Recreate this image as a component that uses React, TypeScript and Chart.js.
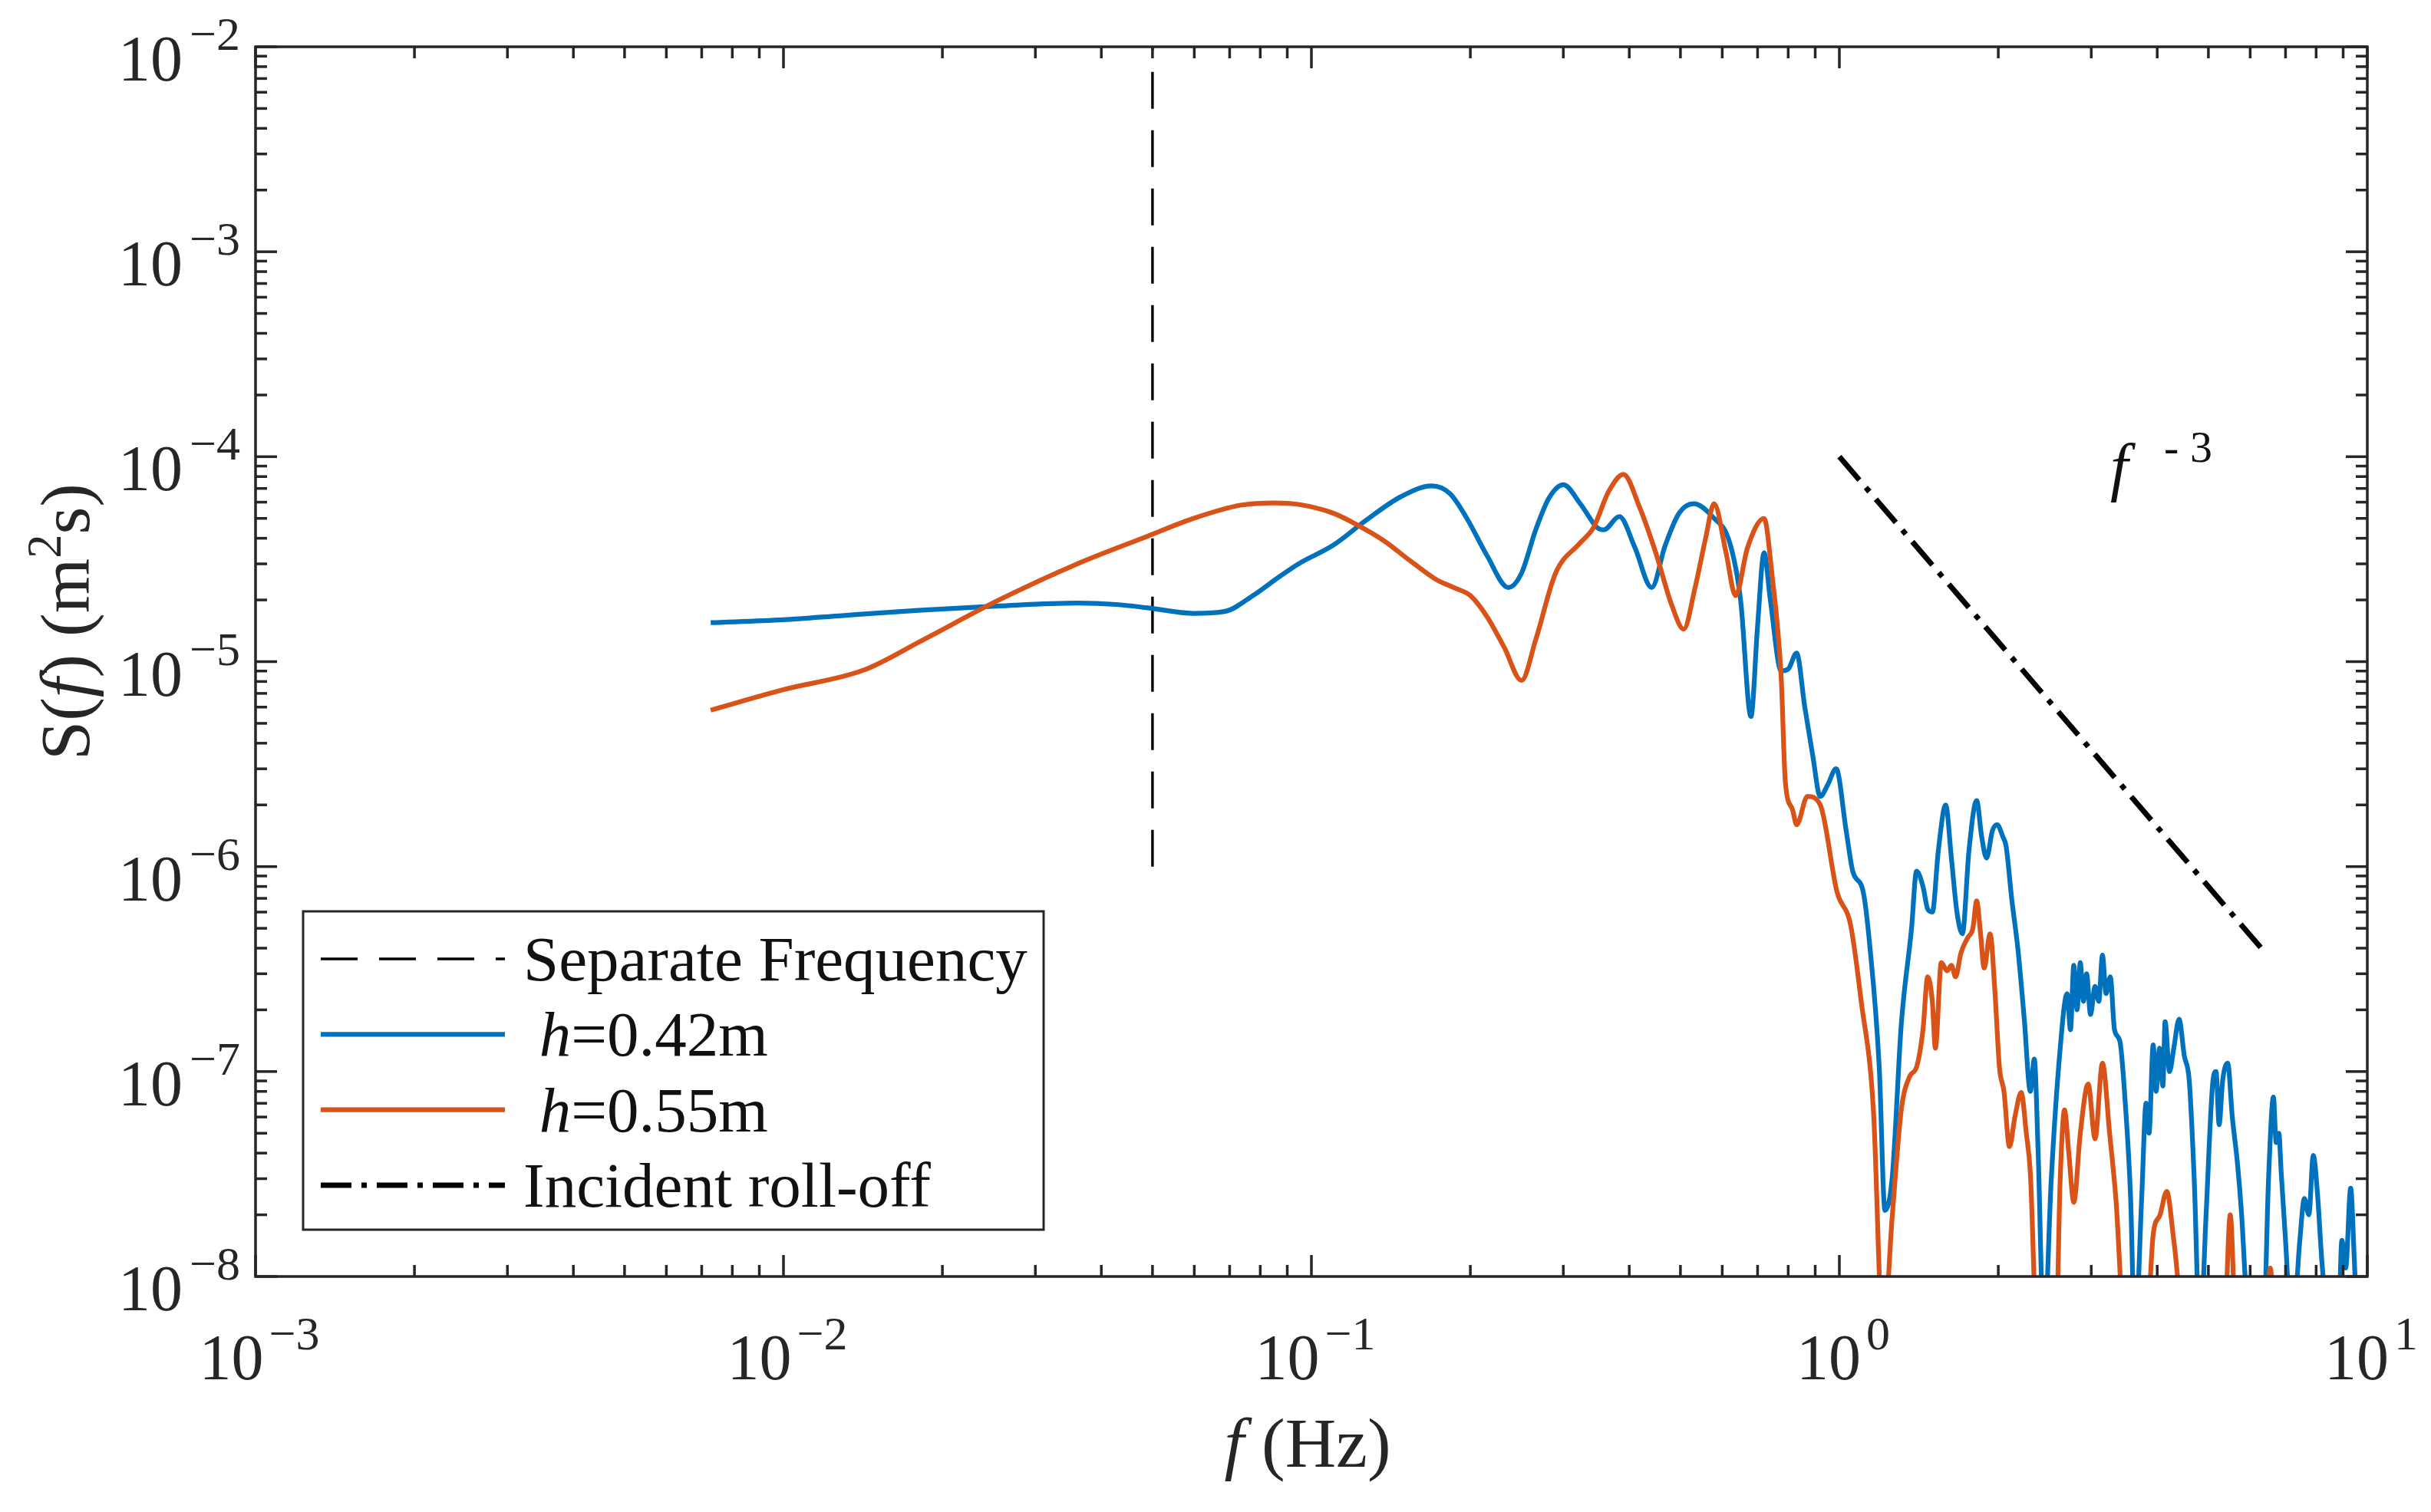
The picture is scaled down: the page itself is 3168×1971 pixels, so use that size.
import { useEffect, useRef } from "react"
import { Chart, registerables } from "chart.js"

Chart.register(...registerables)

// spectra: [f (Hz), S(f) (m^2 s)]
const specH042: [number, number][] = [
  [0.00728, 1.55e-5], [0.01, 1.6e-5], [0.013, 1.68e-5], [0.018, 1.78e-5], [0.0256, 1.87e-5],
  [0.036, 1.93e-5], [0.0427, 1.9e-5], [0.049, 1.83e-5], [0.0598, 1.72e-5], [0.0687, 1.76e-5],
  [0.0775, 2.1e-5], [0.087, 2.6e-5], [0.0945, 3.0e-5], [0.11, 3.7e-5], [0.127, 4.9e-5],
  [0.148, 6.4e-5], [0.169, 7.2e-5], [0.183, 6.6e-5], [0.197, 5.0e-5], [0.215, 3.3e-5],
  [0.236, 2.3e-5], [0.25, 2.7e-5], [0.266, 4.4e-5], [0.282, 6.3e-5], [0.3, 7.3e-5],
  [0.323, 5.9e-5], [0.348, 4.5e-5], [0.358, 4.4e-5], [0.383, 5.1e-5], [0.41, 3.6e-5],
  [0.441, 2.3e-5], [0.468, 3.7e-5], [0.497, 5.3e-5], [0.53, 5.9e-5], [0.575, 5.1e-5],
  [0.62, 3.8e-5], [0.65, 2.0e-5], [0.68, 5.4e-6], [0.7, 1.5e-5], [0.72, 3.4e-5],
  [0.74, 2.0e-5], [0.776, 9e-6], [0.8, 9.2e-6], [0.83, 1.1e-5], [0.86, 6e-6],
  [0.89, 3.5e-6], [0.92, 2.2e-6], [0.95, 2.5e-6], [0.986, 3.0e-6], [1.03, 1.5e-6],
  [1.06, 9.5e-7], [1.11, 7.5e-7], [1.14, 4.3e-7], [1.19, 1.05e-7], [1.22, 2.1e-8],
  [1.26, 3.1e-8], [1.31, 1.7e-7], [1.37, 5e-7], [1.4, 9.5e-7], [1.44, 8e-7],
  [1.47, 6.2e-7], [1.5, 6e-7], [1.54, 1.2e-6], [1.59, 2.0e-6], [1.63, 1.1e-6],
  [1.67, 6e-7], [1.71, 4.7e-7], [1.76, 1.2e-6], [1.82, 2.1e-6], [1.86, 1.4e-6],
  [1.9, 1.1e-6], [1.95, 1.5e-6], [1.99, 1.6e-6], [2.04, 1.4e-6], [2.07, 1.25e-6],
  [2.12, 7e-7], [2.18, 3.9e-7], [2.24, 1.8e-7], [2.3, 8e-8], [2.34, 1.15e-7],
  [2.38, 4e-8], [2.44, 5e-9], [2.52, 3e-8], [2.62, 1.3e-7], [2.7, 2.4e-7],
  [2.74, 1.6e-7], [2.78, 3.3e-7], [2.82, 2.0e-7], [2.86, 3.4e-7], [2.9, 2.2e-7],
  [2.94, 3.0e-7], [2.99, 1.9e-7], [3.05, 2.6e-7], [3.1, 2.2e-7], [3.15, 3.7e-7],
  [3.2, 2.4e-7], [3.26, 2.9e-7], [3.32, 1.6e-7], [3.4, 1.4e-7], [3.48, 7e-8],
  [3.56, 2.5e-8], [3.63, 5e-9], [3.74, 2.5e-8], [3.81, 7e-8], [3.86, 5e-8],
  [3.93, 1.35e-7], [3.98, 8e-8], [4.04, 1.3e-7], [4.1, 8.5e-8], [4.14, 1.75e-7],
  [4.22, 1.0e-7], [4.3, 1.3e-7], [4.4, 1.8e-7], [4.5, 1.2e-7], [4.6, 9e-8],
  [4.7, 3e-8], [4.82, 5e-9], [4.95, 2e-8], [5.1, 9e-8], [5.17, 1.0e-7],
  [5.24, 5.5e-8], [5.32, 9e-8], [5.44, 1.1e-7], [5.55, 6e-8], [5.68, 3.5e-8],
  [5.78, 2.0e-8], [5.9, 8e-9], [6.02, 5e-9], [6.35, 5e-9], [6.5, 3e-8],
  [6.64, 7.5e-8], [6.72, 4.5e-8], [6.8, 5e-8], [6.87, 3.2e-8], [7.0, 1.5e-8],
  [7.2, 5e-9], [7.45, 1.5e-8], [7.6, 2.4e-8], [7.75, 2e-8], [7.9, 3.9e-8],
  [8.05, 2.5e-8], [8.2, 1.2e-8], [8.5, 5e-9], [8.8, 5e-9], [8.95, 1.5e-8],
  [9.1, 1.1e-8], [9.3, 2.7e-8], [9.45, 1.2e-8], [9.6, 5e-9], [10.0, 5e-9],
]

const specH055: [number, number][] = [
  [0.00728, 5.8e-6], [0.01, 7.3e-6], [0.0142, 9.1e-6], [0.0182, 1.26e-5], [0.0256, 2.0e-5],
  [0.036, 3.0e-5], [0.049, 4.1e-5], [0.0598, 5.0e-5], [0.0734, 5.8e-5], [0.0855, 5.95e-5],
  [0.0945, 5.85e-5], [0.11, 5.3e-5], [0.123, 4.6e-5], [0.137, 3.9e-5], [0.154, 3.1e-5],
  [0.173, 2.5e-5], [0.186, 2.3e-5], [0.2, 2.1e-5], [0.215, 1.66e-5], [0.232, 1.17e-5],
  [0.25, 8.1e-6], [0.266, 1.28e-5], [0.29, 2.7e-5], [0.323, 3.8e-5], [0.342, 4.5e-5],
  [0.366, 6.8e-5], [0.39, 8.2e-5], [0.418, 5.7e-5], [0.449, 3.4e-5], [0.482, 1.87e-5],
  [0.507, 1.44e-5], [0.533, 2.3e-5], [0.558, 4.0e-5], [0.579, 5.9e-5], [0.61, 3.4e-5],
  [0.636, 2.1e-5], [0.67, 3.6e-5], [0.72, 5.0e-5], [0.745, 2.7e-5], [0.776, 8.3e-6],
  [0.79, 2.6e-6], [0.815, 1.9e-6], [0.83, 1.6e-6], [0.87, 2.2e-6], [0.92, 2.0e-6],
  [0.99, 7.5e-7], [1.05, 5.2e-7], [1.1, 2.2e-7], [1.16, 6.5e-8], [1.21, 5e-9],
  [1.26, 2e-8], [1.31, 6.5e-8], [1.36, 9.5e-8], [1.4, 1.05e-7], [1.44, 1.6e-7],
  [1.47, 2.9e-7], [1.5, 2.2e-7], [1.52, 1.3e-7], [1.56, 3.4e-7], [1.6, 3.1e-7],
  [1.63, 3.3e-7], [1.66, 2.9e-7], [1.7, 3.8e-7], [1.75, 4.5e-7], [1.79, 5e-7],
  [1.82, 6.8e-7], [1.85, 4.8e-7], [1.88, 3.2e-7], [1.93, 4.7e-7], [1.97, 2.5e-7],
  [2.01, 1.05e-7], [2.05, 8e-8], [2.1, 4.3e-8], [2.15, 6e-8], [2.21, 7.9e-8],
  [2.26, 5e-8], [2.3, 3.2e-8], [2.37, 5e-9], [2.57, 5e-9], [2.62, 3e-8],
  [2.67, 6.5e-8], [2.72, 4e-8], [2.78, 2.3e-8], [2.86, 5e-8], [2.96, 8.7e-8],
  [3.05, 4.7e-8], [3.15, 1.1e-7], [3.25, 5e-8], [3.34, 2.4e-8], [3.48, 5e-9],
  [3.81, 5e-9], [3.93, 1.6e-8], [4.05, 2.0e-8], [4.17, 2.6e-8], [4.3, 1.5e-8],
  [4.53, 5e-9], [5.35, 5e-9], [5.5, 2e-8], [5.65, 5e-9], [6.4, 5e-9],
  [6.55, 1.1e-8], [6.7, 5e-9], [10.0, 5e-9],
]

// separate frequency marker and the f^-3 reference
const separateLine: [number, number][] = [[0.05, 1e-6], [0.05, 1e-2]]
const rollOffLine: [number, number][] = [[1, 1e-4], [6.35, 3.9e-7]]

const xDecades = [-3, -2, -1, 0, 1]
const yDecades = [-8, -7, -6, -5, -4, -3, -2]

const slopeLabel = { f: 3.26, s: 7e-5 }

const AXIS = "#262626"
const SERIF = '"Liberation Serif", "Times New Roman", serif'

type Part = { t: string; it?: boolean; sup?: boolean }

const toXY = (pts: [number, number][]) => pts.map(([x, y]) => ({ x, y }))

function legendParts(label: string): Part[] {
  if (label.startsWith("h=")) return [{ t: " " }, { t: "h", it: true }, { t: label.slice(1) }]
  return [{ t: label }]
}

function partsWidth(ctx: CanvasRenderingContext2D, parts: Part[], size: number) {
  let w = 0
  for (const p of parts) {
    const s = p.sup ? size * 0.68 : size
    ctx.font = `${p.it ? "italic " : ""}${s}px ${SERIF}`
    w += ctx.measureText(p.t).width
  }
  return w
}

function drawParts(ctx: CanvasRenderingContext2D, parts: Part[], x: number, y: number, size: number) {
  let cx = x
  for (const p of parts) {
    const s = p.sup ? size * 0.68 : size
    ctx.font = `${p.it ? "italic " : ""}${s}px ${SERIF}`
    ctx.fillText(p.t, cx, p.sup ? y - size * 0.4 : y)
    cx += ctx.measureText(p.t).width
  }
}

const expText = (d: number) => (d < 0 ? "\u2212" + -d : String(d))

const axesPlugin = {
  id: "matlabAxes",
  afterDatasetsDraw(chart: any) {
    const { ctx, chartArea: a, scales } = chart
    const xs = scales.x
    const ys = scales.y
    ctx.save()
    ctx.strokeStyle = AXIS
    ctx.fillStyle = AXIS
    ctx.lineWidth = 3.5
    ctx.lineCap = "butt"

    const line = (x1: number, y1: number, x2: number, y2: number) => {
      ctx.beginPath()
      ctx.moveTo(x1, y1)
      ctx.lineTo(x2, y2)
      ctx.stroke()
    }

    // inward ticks on all four sides
    xDecades.forEach((d, i) => {
      for (let m = 1; m < 10; m++) {
        if (i === xDecades.length - 1 && m > 1) break
        const px = xs.getPixelForValue(m * 10 ** d)
        const len = m === 1 ? 28 : 15
        line(px, a.bottom, px, a.bottom - len)
        line(px, a.top, px, a.top + len)
      }
    })
    yDecades.forEach((d, i) => {
      for (let m = 1; m < 10; m++) {
        if (i === yDecades.length - 1 && m > 1) break
        const py = ys.getPixelForValue(m * 10 ** d)
        const len = m === 1 ? 28 : 15
        line(a.left, py, a.left + len, py)
        line(a.right, py, a.right - len, py)
      }
    })
    ctx.strokeRect(a.left, a.top, a.right - a.left, a.bottom - a.top)

    // tick labels 10^n
    ctx.textBaseline = "alphabetic"
    ctx.textAlign = "left"
    const baseSize = 84
    const expSize = 62
    for (const d of xDecades) {
      const px = xs.getPixelForValue(10 ** d)
      ctx.font = `${baseSize}px ${SERIF}`
      const wb = ctx.measureText("10").width
      ctx.font = `${expSize}px ${SERIF}`
      const we = ctx.measureText(expText(d)).width
      const start = px - (wb + 7 + we) / 2 + 5
      ctx.font = `${baseSize}px ${SERIF}`
      ctx.fillText("10", start, a.bottom + 134)
      ctx.font = `${expSize}px ${SERIF}`
      ctx.fillText(expText(d), start + wb + 7, a.bottom + 95)
    }
    ctx.textAlign = "right"
    for (const d of yDecades) {
      const py = ys.getPixelForValue(10 ** d)
      const right = a.left - 20
      ctx.font = `${expSize}px ${SERIF}`
      const we = ctx.measureText(expText(d)).width
      ctx.fillText(expText(d), right, py + 4)
      ctx.font = `${baseSize}px ${SERIF}`
      ctx.fillText("10", right - we - 9, py + 44)
    }

    // axis titles
    ctx.textAlign = "left"
    const titleSize = 92
    const xTitle: Part[] = [{ t: "f", it: true }, { t: " (Hz)" }]
    const xw = partsWidth(ctx, xTitle, titleSize)
    drawParts(ctx, xTitle, (a.left + a.right) / 2 - 5 - xw / 2, a.bottom + 248, titleSize)

    const yTitle: Part[] = [
      { t: "S(" }, { t: "f", it: true }, { t: ") (m" }, { t: "2", sup: true }, { t: "s)" },
    ]
    const yw = partsWidth(ctx, yTitle, titleSize)
    ctx.save()
    ctx.translate(116, (a.top + a.bottom) / 2 - 52)
    ctx.rotate(-Math.PI / 2)
    drawParts(ctx, yTitle, -yw / 2, 0, titleSize)
    ctx.restore()

    // slope annotation f^-3
    const lx = xs.getPixelForValue(slopeLabel.f)
    const ly = ys.getPixelForValue(slopeLabel.s)
    ctx.font = `italic 84px ${SERIF}`
    ctx.fillStyle = "#111"
    ctx.fillText("f", lx, ly)
    ctx.font = `58px ${SERIF}`
    ctx.fillText("- 3", lx + 70, ly - 35)

    ctx.restore()
  },
}

const legendPlugin = {
  id: "boxLegend",
  afterDatasetsDraw(chart: any) {
    const { ctx, chartArea: a } = chart
    const left = a.left + 62
    const bottom = a.bottom - 61
    const width = 965
    const height = 415
    const top = bottom - height
    ctx.save()
    ctx.fillStyle = "#fff"
    ctx.fillRect(left, top, width, height)
    ctx.strokeStyle = AXIS
    ctx.lineWidth = 3
    ctx.setLineDash([])
    ctx.strokeRect(left, top, width, height)

    const items = chart.data.datasets.map((ds: any, i: number) => ({ ds, i }))
    items.sort((p: any, q: any) => p.ds.legendRank - q.ds.legendRank)
    items.forEach(({ ds }: any, row: number) => {
      const cy = top + 62 + row * 98.3
      ctx.strokeStyle = ds.borderColor
      ctx.lineWidth = ds.borderWidth
      ctx.setLineDash(ds.borderDash || [])
      ctx.lineCap = "butt"
      ctx.beginPath()
      ctx.moveTo(left + 23, cy)
      ctx.lineTo(left + 263, cy)
      ctx.stroke()
      ctx.setLineDash([])
      ctx.fillStyle = "#111"
      ctx.textAlign = "left"
      ctx.textBaseline = "alphabetic"
      drawParts(ctx, legendParts(ds.label), left + 287, cy + 28, 83)
    })
    ctx.restore()
  },
}

export default function App() {
  const canvasRef = useRef<HTMLCanvasElement>(null)
  const chartRef = useRef<Chart | null>(null)

  useEffect(() => {
    if (!canvasRef.current) return
    if (chartRef.current) chartRef.current.destroy()
    const ctx = canvasRef.current.getContext("2d")
    if (!ctx) return

    chartRef.current = new Chart(ctx, {
      type: "line",
      data: {
        datasets: [
          {
            label: "Separate Frequency",
            data: toXY(separateLine),
            borderColor: "#000000",
            borderWidth: 3.4,
            borderDash: [48, 28],
            pointRadius: 0,
            tension: 0,
            order: 4,
            legendRank: 0,
          },
          {
            label: "h=0.42m",
            data: toXY(specH042),
            borderColor: "#0072BD",
            borderWidth: 6.2,
            pointRadius: 0,
            cubicInterpolationMode: "monotone",
            clip: 0,
            order: 3,
            legendRank: 1,
          },
          {
            label: "h=0.55m",
            data: toXY(specH055),
            borderColor: "#D95319",
            borderWidth: 6.2,
            pointRadius: 0,
            cubicInterpolationMode: "monotone",
            clip: 0,
            order: 2,
            legendRank: 2,
          },
          {
            label: "Incident roll-off",
            data: toXY(rollOffLine),
            borderColor: "#000000",
            borderWidth: 7,
            borderDash: [40, 13, 7, 13],
            pointRadius: 0,
            tension: 0,
            order: 1,
            legendRank: 3,
          },
        ] as any,
      },
      options: {
        animation: false,
        responsive: true,
        maintainAspectRatio: false,
        events: [],
        layout: { padding: { top: 61, right: 83, bottom: 0, left: 0 } },
        scales: {
          x: {
            type: "logarithmic",
            min: 1e-3,
            max: 10,
            grid: { display: false },
            border: { display: false },
            ticks: { display: false },
            afterFit: (s: any) => {
              s.height = 307
            },
          },
          y: {
            type: "logarithmic",
            min: 1e-8,
            max: 1e-2,
            grid: { display: false },
            border: { display: false },
            ticks: { display: false },
            afterFit: (s: any) => {
              s.width = 333
            },
          },
        },
        plugins: {
          legend: { display: false },
          tooltip: { enabled: false },
        },
      },
      plugins: [axesPlugin, legendPlugin],
    })

    return () => {
      if (chartRef.current) {
        chartRef.current.destroy()
        chartRef.current = null
      }
    }
  }, [])

  return (
    <div style={{ position: "fixed", inset: 0, background: "#ffffff" }}>
      <canvas ref={canvasRef}></canvas>
    </div>
  )
}
